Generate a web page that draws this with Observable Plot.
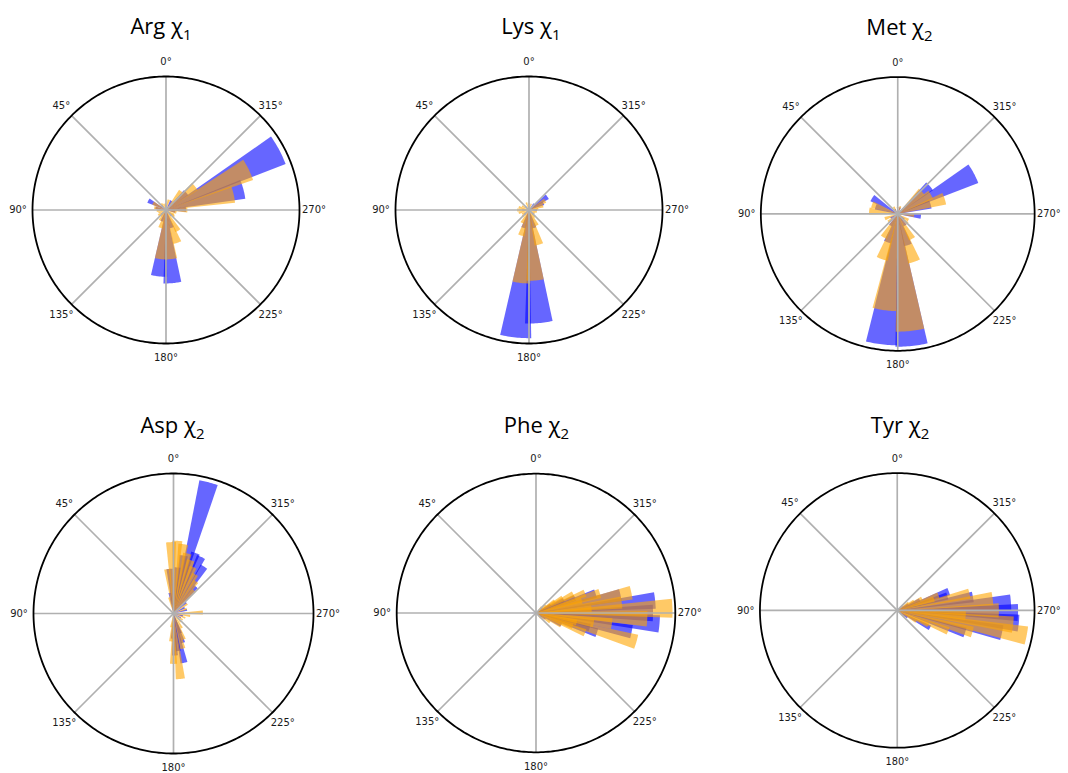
<!DOCTYPE html>
<html>
<head>
<meta charset="utf-8">
<script src="https://cdn.jsdelivr.net/npm/d3@7"></script>
<script src="https://cdn.jsdelivr.net/npm/@observablehq/plot@0.6"></script>
<style>
  html, body { margin: 0; padding: 0; background: #fff; }
  body { width: 1068px; height: 773px; position: relative; overflow: hidden; }
  .panel { position: absolute; }
  .panel svg { overflow: visible; }
  .title { position: absolute; font-family: "Open Sans", sans-serif; font-size: 22px; line-height: 22px;
           color: #000; white-space: nowrap; transform: translateX(-50%); }
  .title .sub { font-size: 15px; position: relative; top: 6px; }
</style>
</head>
<body>
<script>
// ---------- data ----------
const tickAngles = [0, 45, 90, 135, 180, 225, 270, 315];
const tickLabels = ["0°", "45°", "90°", "135°", "180°", "225°", "270°", "315°"];

const titleNames = ["Arg χ", "Lys χ", "Met χ", "Asp χ", "Phe χ", "Tyr χ"];
const titleSubs  = ["1", "1", "2", "2", "2", "2"];

// [angle in degrees, bar length as fraction of the radial axis]
const argBlue = [[298,0.96],[285,0.60],[311,0.20],[272,0.15],[260,0.07],[62,0.15],[78,0.08],[174,0.50],[185,0.55],[198,0.14],[160,0.09],[225,0.06],[135,0.05],[45,0.05],[0,0.04],[330,0.08]];
const argOrange = [[296,0.69],[283,0.52],[309,0.28],[320,0.18],[270,0.16],[257,0.08],[174,0.37],[186,0.37],[199,0.26],[210,0.18],[163,0.14],[150,0.09],[62,0.11],[78,0.09],[95,0.07],[110,0.06],[125,0.07],[140,0.06],[230,0.08],[240,0.07],[20,0.05],[345,0.08],[35,0.06],[5,0.05]];

const lysBlue = [[174,0.96],[185,0.85],[306,0.17],[295,0.12],[163,0.14],[196,0.14],[90,0.05],[270,0.06],[0,0.03],[45,0.04],[225,0.05],[135,0.05],[320,0.06]];
const lysOrange = [[174,0.55],[185,0.53],[163,0.20],[196,0.27],[207,0.13],[152,0.11],[300,0.14],[287,0.11],[275,0.07],[90,0.09],[75,0.08],[105,0.08],[120,0.06],[240,0.05],[255,0.06],[0,0.05],[20,0.06],[340,0.05],[60,0.06],[135,0.07],[220,0.07]];

const metBlue = [[173,0.96],[186,0.97],[298,0.63],[311,0.31],[286,0.25],[58,0.22],[72,0.17],[265,0.17],[160,0.22],[198,0.24],[148,0.10],[212,0.10],[230,0.06],[120,0.06],[30,0.04],[340,0.05]];
const metOrange = [[172,0.71],[186,0.86],[161,0.35],[199,0.37],[149,0.20],[210,0.21],[288,0.36],[300,0.28],[313,0.24],[70,0.20],[84,0.21],[266,0.12],[240,0.09],[130,0.09],[0,0.05],[30,0.06],[340,0.06],[110,0.10],[225,0.10]];

const aspBlue = [[345,0.97],[340,0.46],[334,0.45],[327,0.40],[350,0.42],[355,0.33],[320,0.25],[312,0.12],[298,0.09],[285,0.10],[270,0.08],[255,0.07],[240,0.06],[192,0.36],[187,0.27],[198,0.22],[182,0.30],[5,0.32],[178,0.18],[10,0.15],[200,0.15]];
const aspOrange = [[2,0.51],[357,0.52],[352,0.50],[347,0.44],[342,0.40],[337,0.36],[331,0.32],[325,0.28],[318,0.22],[8,0.32],[305,0.12],[290,0.10],[272,0.21],[262,0.12],[250,0.09],[235,0.08],[220,0.08],[210,0.12],[202,0.20],[195,0.26],[186,0.47],[180,0.36],[175,0.20],[15,0.12],[90,0.04],[135,0.04],[45,0.04],[170,0.10]];

const pheBlue = [[276,0.86],[265,0.89],[270,0.84],[282,0.62],[288,0.45],[259,0.70],[252,0.46],[255,0.40],[291,0.30],[295,0.22],[245,0.20],[300,0.12],[238,0.08],[310,0.06],[230,0.05],[90,0.03]];
const pheOrange = [[272,0.98],[282,0.70],[254,0.75],[267,0.80],[277,0.62],[262,0.55],[287,0.48],[297,0.30],[292,0.38],[248,0.38],[243,0.20],[303,0.16],[236,0.12],[310,0.09],[228,0.07],[320,0.06],[220,0.05],[257,0.30],[274,0.40],[250,0.28],[285,0.34],[300,0.22],[260,0.42]];

const tyrBlue = [[274,0.83],[264,0.89],[269,0.88],[280,0.56],[286,0.38],[258,0.78],[252,0.52],[242,0.27],[290,0.40],[295,0.18],[300,0.09],[235,0.09],[90,0.03],[310,0.05]];
const tyrOrange = [[259,0.96],[263,0.85],[283,0.54],[277,0.70],[270,0.74],[254,0.57],[248,0.40],[290,0.32],[296,0.20],[240,0.16],[305,0.10],[230,0.07],[266,0.50],[287,0.28],[245,0.25],[300,0.14]];

const blueSeries = [argBlue, lysBlue, metBlue, aspBlue, pheBlue, tyrBlue];
const orangeSeries = [argOrange, lysOrange, metOrange, aspOrange, pheOrange, tyrOrange];

// ---------- layout (page pixels) ----------
const layout = [
  {cx: 165.5, cy: 209,   R: 133.5, tx: 161,   ty: 33,  bw: 14},
  {cx: 528.7, cy: 209,   R: 133.5, tx: 531,   ty: 33,  bw: 14},
  {cx: 900,   cy: 216.5, R: 139.5, tx: 899.5, ty: 34,  bw: 14},
  {cx: 172.7, cy: 612.7, R: 140,   tx: 172.5, ty: 432, bw: 8},
  {cx: 535.7, cy: 612.7, R: 139.3, tx: 536.5, ty: 432, bw: 8},
  {cx: 899,   cy: 612.7, R: 139.5, tx: 900,   ty: 432, bw: 8}
];

const rad = d => d * Math.PI / 180;
// polar -> cartesian with 0° at top, angles increasing counter-clockwise
const px = (a, r) => -r * Math.sin(rad(a));
const py = (a, r) => r * Math.cos(rad(a));

function wedgePoints(bars, width, key) {
  const pts = [];
  bars.forEach(([a, v], i) => {
    const id = key + i;
    pts.push({id, x: 0, y: 0});
    const n = 16;
    for (let k = 0; k <= n; k++) {
      const t = a - width / 2 + width * k / n;
      pts.push({id, x: px(t, v), y: py(t, v)});
    }
    pts.push({id, x: 0, y: 0});
  });
  return pts;
}

const circleAngles = d3.range(0, 361, 1);

layout.forEach((L, i) => {
  const W = Math.round(2 * L.R + 70), H = Math.round(2 * L.R + 50);
  const labelK = (L.R + 14.5) / L.R;
  const chart = Plot.plot({
    width: W, height: H, margin: 0,
    x: {domain: [-W / 2 / L.R, W / 2 / L.R], axis: null},
    y: {domain: [-H / 2 / L.R, H / 2 / L.R], axis: null},
    style: {background: "transparent", overflow: "visible"},
    marks: [
      Plot.line(wedgePoints(blueSeries[i], L.bw, "b"), {x: "x", y: "y", z: "id", fill: "blue", fillOpacity: 0.6, stroke: "none"}),
      Plot.line(wedgePoints(orangeSeries[i], L.bw, "o"), {x: "x", y: "y", z: "id", fill: "orange", fillOpacity: 0.6, stroke: "none"}),
      Plot.link(tickAngles, {x1: () => 0, y1: () => 0, x2: a => px(a, 1), y2: a => py(a, 1), stroke: "#b0b0b0", strokeWidth: 1.7}),
      Plot.line(circleAngles, {x: a => px(a, 1), y: a => py(a, 1), stroke: "black", strokeWidth: 1.8}),
      Plot.text(tickAngles, {x: a => px(a, labelK), y: a => py(a, labelK), text: (a, j) => tickLabels[j],
        fontSize: 10, fontFamily: "DejaVu Sans", fill: "#1a1a1a"})
    ]
  });
  const div = document.createElement("div");
  div.className = "panel";
  div.style.left = (L.cx - W / 2) + "px";
  div.style.top = (L.cy - H / 2) + "px";
  div.appendChild(chart);
  document.body.appendChild(div);

  const t = document.createElement("div");
  t.className = "title";
  t.style.left = L.tx + "px";
  t.style.top = (L.ty - 19.5) + "px";
  t.innerHTML = titleNames[i] + '<span class="sub">' + titleSubs[i] + '</span>';
  document.body.appendChild(t);
});
</script>
</body>
</html>
